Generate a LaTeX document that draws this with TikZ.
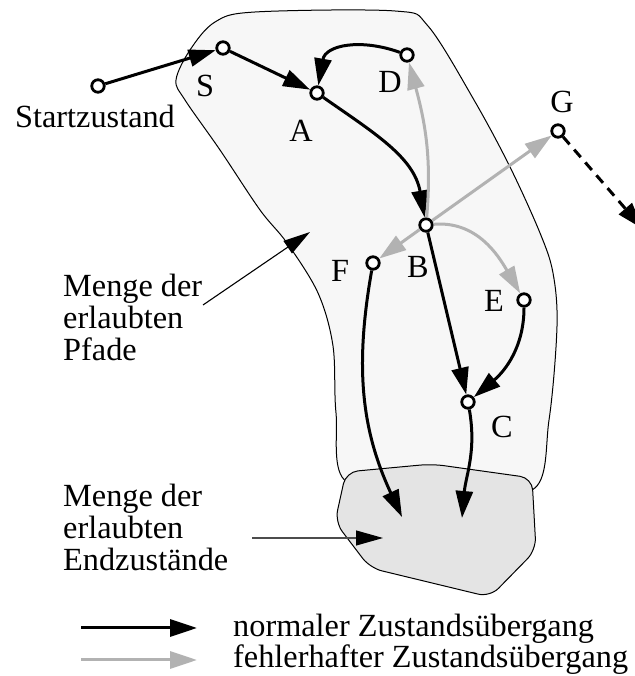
\documentclass[tikz,border=0pt]{standalone}
\usepackage{fontspec}
\setmainfont{Liberation Serif}
\usepackage{tikz}
\usetikzlibrary{arrows.meta, positioning}
\definecolor{PathFill}{RGB}{247,247,247}
\definecolor{EndFill}{RGB}{228,228,228}
\definecolor{FaultGray}{RGB}{178,178,178}

\begin{document}
\begin{tikzpicture}[x=1pt, y=1pt,
    state/.style={circle, draw, fill=white, line width=2.8pt, inner sep=0pt,
                  minimum size=12.5pt},
    lbl/.style={font=\fontsize{32.3}{33}\selectfont, anchor=base, inner sep=0pt},
    txt/.style={font=\fontsize{32.3}{32}\selectfont, align=left,
                anchor=north west, inner sep=0pt},
    arr/.style={-{Triangle[length=27pt, width=17pt]}, line width=3pt},
    ok/.style={arr, draw=black},
    bad/.style={arr, draw=FaultGray},
    ptr/.style={-{Triangle[length=27pt, width=15pt, color=black]}, line width=1.1pt}
  ]
  \useasboundingbox (0,0) rectangle (634,676);

  % allowed paths
  \draw[fill=PathFill, line width=1pt] plot[smooth cycle, tension=0.55] coordinates {
      (255,664) (395,665) (428,650) (474,576) (510,509) (540,443) (553,403)
      (557,350) (549,256) (532,186) (440,198) (347,194) (336,263) (333,330)
      (318,383) (287,433) (260,466) (220,526) (185,576) (176,596) (190,626)
      (215,654)};

  % allowed final states
  \draw[fill=EndFill, line width=1pt, rounded corners=12pt]
    (432,212) -- (532,198) -- (536,126) -- (490,79) -- (370,108)
    -- (335,154) -- (346,204) -- cycle;

  \node[state] (start) at (98,590) {};
  \node[state] (ns) at (223,628) {};
  \node[state] (na) at (317,583) {};
  \node[state] (nd) at (407,621) {};
  \node[state] (ng) at (558,545) {};
  \node[state] (nb) at (426,451) {};
  \node[state] (nf) at (373,413) {};
  \node[state] (ne) at (524,376) {};
  \node[state] (nc) at (468,274) {};

  \node[lbl] (ls) at (205,579) {S};
  \node[lbl] (la) at (301,534) {A};
  \node[lbl] (ld) at (390,583) {D};
  \node[lbl] (lg) at (562,563) {G};
  \node[lbl] (lb) at (418,398) {B};
  \node[lbl] (lf) at (340,394) {F};
  \node[lbl] (le) at (494,364) {E};
  \node[lbl] (lc) at (502,238) {C};
  \node[lbl, anchor=base west] (lstart) at (15,548) {Startzustand};

  \coordinate (endf) at (402,159);
  \coordinate (endc) at (462,158);
  \coordinate (gout) at (643,447);

  \draw[ok] (start) -- (ns);
  \draw[ok] (ns) -- (na);
  \draw[ok] (nd) to[out=160, in=80, looseness=1.2] (na);
  \draw[ok] (na) to[out=-35, in=100] (nb);
  \draw[ok] (nb) -- (nc);
  \draw[ok] (ne) to[out=-90, in=40] (nc);
  \draw[ok] (nf) to[out=-100, in=115] (endf);
  \draw[ok] (nc) to[out=-80, in=85] (endc);
  \draw[ok, dash pattern=on 10pt off 7pt] (ng) -- (gout);

  \draw[bad] (nb) to[out=85, in=-75] (nd);
  \draw[bad] (nb) -- (ng);
  \draw[bad] (nb) -- (nf);
  \draw[bad] (nb) to[out=5, in=120] (ne);

  % set labels
  \node[txt] (tpaths) at (63,402) {Menge der\\erlaubten\\Pfade};
  \node[txt] (tends) at (63,192) {Menge der\\erlaubten\\Endzustände};
  \coordinate (p1) at (203,371);
  \coordinate (q1) at (310,444);
  \coordinate (p2) at (252,138);
  \coordinate (q2) at (383,138);
  \draw[ptr] (p1) -- (q1);
  \draw[ptr, draw=black!70] (p2) -- (q2);

  % legend
  \coordinate (k1) at (81,48);
  \coordinate (k2) at (197,48);
  \coordinate (k3) at (81,16);
  \coordinate (k4) at (197,16);
  \draw[ok] (k1) -- (k2);
  \draw[bad] (k3) -- (k4);
  \node[lbl, anchor=base west] (tok) at (233,39) {normaler Zustandsübergang};
  \node[lbl, anchor=base west] (tbad) at (233,9) {fehlerhafter Zustandsübergang};
\end{tikzpicture}
\end{document}
